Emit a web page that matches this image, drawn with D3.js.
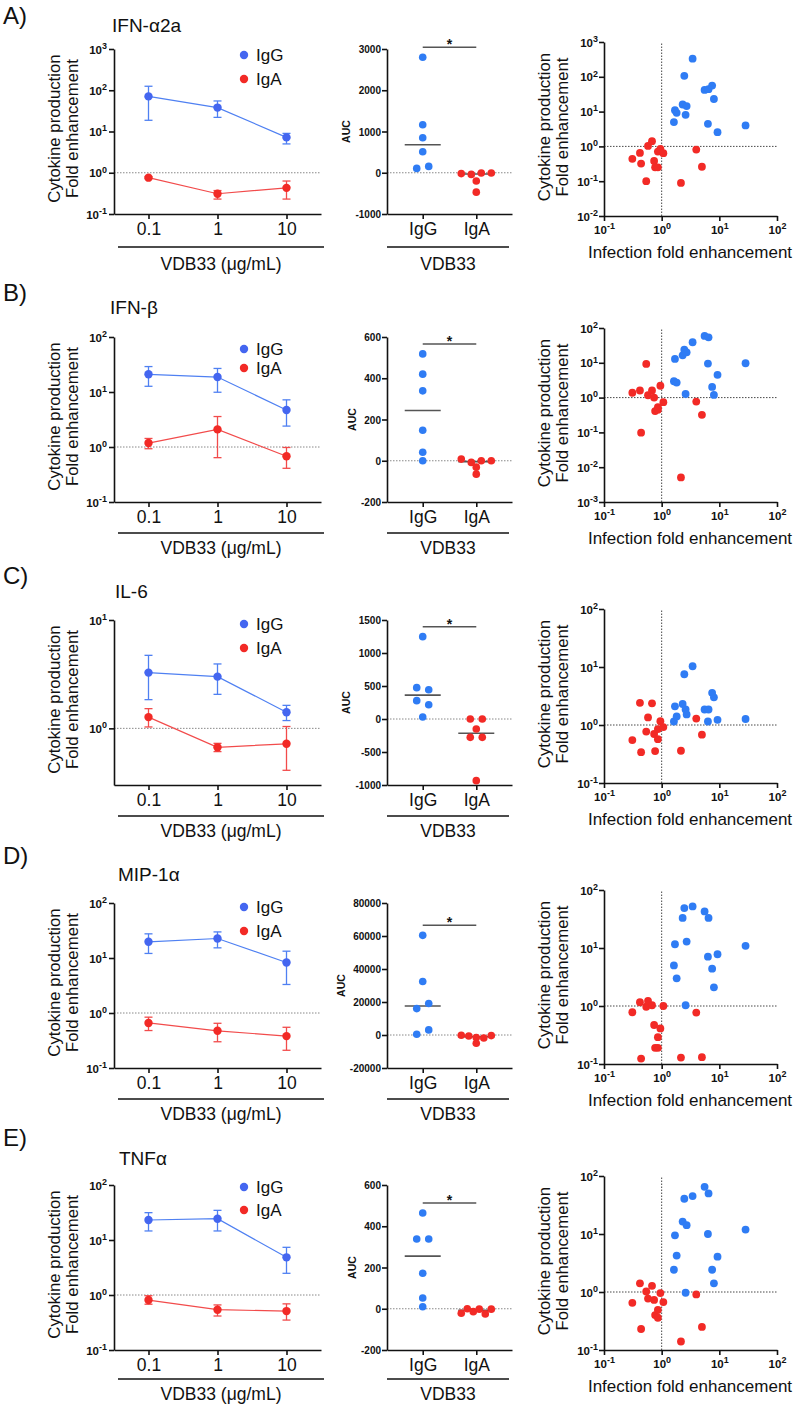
<!DOCTYPE html>
<html><head><meta charset="utf-8">
<script src="https://cdn.jsdelivr.net/npm/d3@7"></script>
<style>
body{margin:0;background:#fff;}
svg{display:block;font-family:"Liberation Sans",Arial,Helvetica,sans-serif;}
</style></head><body>
<svg id="chart" width="800" height="1410"></svg>
<script>
// ================= DATA =================
const panelLetters = ["A)", "B)", "C)", "D)", "E)"];
const cytokines = ["IFN-α2a", "IFN-β", "IL-6", "MIP-1α", "TNFα"];
const concentrations = ["0.1", "1", "10"];
const groups = ["IgG", "IgA"];

// dose-response: mean and error-bar limits, one row per cytokine
const doseIgG     = [[71, 38, 7.2], [21, 18.7, 4.7], [3.27, 3.0, 1.41], [19.7, 22.6, 8.3], [23.1, 24.4, 4.84]];
const doseIgGLow  = [[18.7, 22, 5], [12.7, 9.9, 2.4], [1.84, 2.06, 1.18], [12.1, 15.3, 3.3], [14.6, 14.6, 2.48]];
const doseIgGHigh = [[125, 55, 9], [29, 26.8, 7.2], [4.72, 3.93, 1.63], [27.5, 29.8, 13.3], [31.4, 34.6, 7.36]];
const doseIgA     = [[0.76, 0.31, 0.43], [1.18, 2.09, 0.68], [1.27, 0.668, 0.72], [0.66, 0.475, 0.38], [0.81, 0.54, 0.51]];
const doseIgALow  = [[0.72, 0.23, 0.23], [0.93, 0.64, 0.41], [1.03, 0.61, 0.41], [0.48, 0.30, 0.21], [0.68, 0.415, 0.35]];
const doseIgAHigh = [[0.80, 0.37, 0.63], [1.43, 3.58, 0.98], [1.52, 0.727, 1.04], [0.84, 0.65, 0.55], [0.97, 0.66, 0.69]];

// AUC per donor
const aucIgG = [
  [2800, 1165, 850, 510, 106, 154],
  [518, 420, 339, 148, 41, 0],
  [1248, 475, 444, 278, 217, 30],
  [60400, 32400, 16000, 19100, 440, 3080],
  [464, 338, 338, 172, 52, 10]
];
const aucIgA = [
  [-20, -40, -5, -5, -200, -470],
  [8, -8, 0, 0, -31, -65],
  [0, 0, -152, -278, -278, -934],
  [-160, -570, -1580, -1780, -360, -5020],
  [-22, 0, -14, -2, -25, -2]
];

// correlation: infection fold enhancement (x) vs cytokine fold enhancement (y)
const infectionIgG = [1.63, 1.70, 1.82, 2.31, 2.47, 2.60, 2.71, 3.44, 5.55, 6.34, 6.50, 7.50, 8.05, 9.30, 28.5];
const cytoIgG = [
  [5.0, 11, 9.2, 16, 107, 8.1, 14.4, 331, 42, 4.46, 44, 56, 23, 2.57, 4.0],
  [2.95, 12.9, 2.7, 16.4, 23.8, 1.27, 20, 39, 59, 9.5, 54, 2.02, 1.19, 4.5, 9.7],
  [1.15, 2.1, 1.40, 2.3, 7.5, 1.85, 1.52, 10.3, 1.85, 1.15, 1.85, 3.58, 3.0, 1.23, 1.27],
  [5.0, 11.6, 3.0, 33, 48.8, 1.03, 12.9, 52, 42.8, 7.1, 33, 4.4, 2.1, 7.8, 10.9],
  [2.42, 9.5, 4.24, 16.4, 40.5, 0.97, 14.2, 45, 65, 10, 50, 2.42, 1.41, 4.07, 11.9]
];
const infectionIgA = [0.31, 0.42, 0.44, 0.54, 0.58, 0.68, 0.74, 0.77, 0.86, 0.86, 0.95, 1.07, 2.16, 3.98, 4.99];
const cytoIgA = [
  [0.44, 0.65, 0.32, 0.10, 1.03, 1.41, 0.38, 0.25, 0.71, 0.25, 0.85, 0.64, 0.089, 0.81, 0.26],
  [1.38, 1.6, 0.098, 9.3, 1.17, 1.6, 1.0, 0.41, 0.53, 0.45, 2.19, 0.74, 0.0051, 0.77, 0.32],
  [0.55, 2.41, 0.34, 0.77, 1.35, 2.36, 0.70, 0.355, 0.85, 0.57, 1.16, 0.92, 0.36, 1.29, 0.68],
  [0.78, 1.16, 0.124, 0.97, 1.22, 1.03, 0.47, 0.19, 0.29, 0.19, 0.41, 1.0, 0.129, 0.77, 0.131],
  [0.65, 1.41, 0.23, 1.02, 0.77, 1.28, 0.73, 0.40, 0.49, 0.36, 0.96, 0.67, 0.14, 0.91, 0.25]
];

// axis domains & tick labels
const leftYDomain = [[0.1, 1000], [0.1, 100], [0.3, 10], [0.1, 100], [0.1, 100]];
const leftYExp = [[-1, 0, 1, 2, 3], [-1, 0, 1, 2], [0, 1], [-1, 0, 1, 2], [-1, 0, 1, 2]];
const aucTicks = [
  [-1000, 0, 1000, 2000, 3000],
  [-200, 0, 200, 400, 600],
  [-1000, -500, 0, 500, 1000, 1500],
  [-20000, 0, 20000, 40000, 60000, 80000],
  [-200, 0, 200, 400, 600]
];
const rightYExp = [[-2, -1, 0, 1, 2, 3], [-3, -2, -1, 0, 1, 2], [-1, 0, 1, 2], [-1, 0, 1, 2], [-1, 0, 1, 2]];
const rightXExp = [-1, 0, 1, 2];

const xTitleLeft = "VDB33 (μg/mL)";
const xTitleMid = "VDB33";
const xTitleRight = "Infection fold enhancement";
const yTitleLines = ["Cytokine production", "Fold enhancement"];
const yTitleMid = "AUC";

// ================= LAYOUT / STYLE =================
const leftX0 = 114, leftX1 = 321;
const midX0 = 387, midX1 = 512;
const rightX0 = 604, rightX1 = 777;
const rowBottom = [214, 502, 785, 1068, 1350];
const rightBottom = [216, 502, 783, 1064, 1350];
const plotH = 165, rightH = 174;
const letterY = [24, 301, 584, 864, 1146];
const titleY = [32, 314, 598, 881, 1165];
const titleX = [112, 110, 115, 118, 119];
const legendDy = [6, 12, 4, 4, 2], legendGap = [24, 19, 24, 24, 23];
const underlineDy = [33, 31, 31, 31, 29], xTitleDy = [56, 52, 52, 52, 50];

const ink = "#111";
const blueDot = "#4466f0", blueLine = "#4f80f2", blueScatter = "#2f7cf4";
const redDot = "#f22a26", redLine = "#f24b4b";

const svg = d3.select("#chart");

function styleAxis(g) {
  g.select(".domain").attr("stroke", ink).attr("stroke-width", 1.6);
  g.selectAll(".tick line").attr("stroke", ink).attr("stroke-width", 1.6);
  g.selectAll(".tick text").remove();
}
function powLabel(sel, exp, size) {
  sel.style("font-size", size + "px").style("font-weight", "bold").attr("fill", ink);
  sel.append("tspan").text("10");
  sel.append("tspan").attr("dy", -size * 0.42).style("font-size", (size * 0.78) + "px").text(String(exp));
}
function yTitle(x, cy) {
  yTitleLines.forEach((t, k) => {
    svg.append("text").attr("transform", `translate(${x + (k === 0 ? -54 : -36.5)},${cy}) rotate(-90)`)
      .attr("text-anchor", "middle").style("font-size", "16.8px").attr("fill", ink).text(t);
  });
}
function swarm(values, yScale, cx) {
  const idx = values.map((v, k) => k).sort((a, b) => values[b] - values[a]);
  const rows = []; let cur = null;
  idx.forEach(k => {
    const py = yScale(values[k]);
    if (cur && Math.abs(py - cur.y0) <= 6) cur.items.push(k);
    else { cur = { y0: py, items: [k] }; rows.push(cur); }
  });
  const out = new Array(values.length);
  rows.forEach(r => {
    r.items.sort((a, b) => a - b);
    const n = r.items.length;
    const sp = n > 1 ? Math.min(12, 30 / (n - 1)) : 0;
    r.items.forEach((k, j) => { out[k] = { x: cx + (j - (n - 1) / 2) * sp, y: yScale(values[k]), v: values[k] }; });
  });
  return out;
}

for (let i = 0; i < 5; i++) {
  const bottom = rowBottom[i], top = bottom - plotH;

  // panel letter & title
  svg.append("text").attr("x", 3).attr("y", letterY[i]).style("font-size", "24px").attr("fill", ink).text(panelLetters[i]);
  svg.append("text").attr("x", titleX[i]).attr("y", titleY[i]).style("font-size", "19px").attr("fill", ink).text(cytokines[i]);

  // ---------- LEFT: dose response ----------
  const xL = d3.scalePoint().domain(concentrations).range([leftX0, leftX1]).padding(0.5);
  const yL = d3.scaleLog().domain(leftYDomain[i]).range([bottom, top]);

  svg.append("line").attr("x1", leftX0).attr("x2", leftX1).attr("y1", yL(1)).attr("y2", yL(1))
    .attr("stroke", "#888").attr("stroke-width", 1).attr("stroke-dasharray", "1.5,1.5");

  const gyL = svg.append("g").attr("transform", `translate(${leftX0},0)`)
    .call(d3.axisLeft(yL).tickValues(leftYExp[i].map(e => Math.pow(10, e))).tickSize(5).tickSizeOuter(0).tickFormat(() => ""));
  styleAxis(gyL);
  gyL.selectAll(".tick").each(function (d) {
    const t = d3.select(this).append("text").attr("x", -7).attr("dy", "0.36em").attr("text-anchor", "end");
    powLabel(t, Math.round(Math.log10(d)), 11.5);
  });
  const gxL = svg.append("g").attr("transform", `translate(0,${bottom})`)
    .call(d3.axisBottom(xL).tickSize(5).tickSizeOuter(0).tickFormat(() => ""));
  styleAxis(gxL);
  gxL.selectAll(".tick").append("text").attr("y", 21).attr("text-anchor", "middle")
    .style("font-size", "17.5px").attr("fill", ink).text(d => d);

  svg.append("line").attr("x1", 118).attr("x2", 324).attr("y1", bottom + underlineDy[i]).attr("y2", bottom + underlineDy[i])
    .attr("stroke", ink).attr("stroke-width", 1.6);
  svg.append("text").attr("x", 221).attr("y", bottom + xTitleDy[i]).attr("text-anchor", "middle")
    .style("font-size", "17.5px").attr("fill", ink).text(xTitleLeft);
  yTitle(leftX0, (top + bottom) / 2 - 3);

  const series = [
    { mean: doseIgG[i], lo: doseIgGLow[i], hi: doseIgGHigh[i], dot: blueDot, line: blueLine },
    { mean: doseIgA[i], lo: doseIgALow[i], hi: doseIgAHigh[i], dot: redDot, line: redLine }
  ];
  series.forEach(s => {
    svg.append("path").datum(s.mean)
      .attr("d", d3.line().x((d, j) => xL(concentrations[j])).y(d => yL(d)))
      .attr("fill", "none").attr("stroke", s.line).attr("stroke-width", 1.2);
    concentrations.forEach((c, j) => {
      const x = xL(c), y1 = yL(s.lo[j]), y2 = yL(s.hi[j]);
      svg.append("line").attr("x1", x).attr("x2", x).attr("y1", y1).attr("y2", y2).attr("stroke", s.line).attr("stroke-width", 1.3);
      [y1, y2].forEach(yy => svg.append("line").attr("x1", x - 4).attr("x2", x + 4).attr("y1", yy).attr("y2", yy)
        .attr("stroke", s.line).attr("stroke-width", 1.3));
    });
    svg.selectAll(null).data(s.mean).enter().append("circle")
      .attr("cx", (d, j) => xL(concentrations[j])).attr("cy", d => yL(d)).attr("r", 4.2).attr("fill", s.dot);
  });

  // legend
  groups.forEach((g, k) => {
    const ly = top + legendDy[i] + k * legendGap[i];
    svg.append("circle").attr("cx", 244).attr("cy", ly).attr("r", 4.2).attr("fill", k === 0 ? blueDot : redDot);
    svg.append("text").attr("x", 256).attr("y", ly).attr("dy", "0.36em").style("font-size", "17px").attr("fill", ink).text(g);
  });

  // ---------- MIDDLE: AUC ----------
  const ticks = aucTicks[i];
  const yM = d3.scaleLinear().domain([ticks[0], ticks[ticks.length - 1]]).range([bottom, top]);
  const xM = d3.scalePoint().domain(groups).range([midX0, midX1]).padding(0.667);

  svg.append("line").attr("x1", midX0).attr("x2", midX1).attr("y1", yM(0)).attr("y2", yM(0))
    .attr("stroke", "#888").attr("stroke-width", 1).attr("stroke-dasharray", "1.5,1.5");

  const gyM = svg.append("g").attr("transform", `translate(${midX0},0)`)
    .call(d3.axisLeft(yM).tickValues(ticks).tickSize(5).tickSizeOuter(0).tickFormat(() => ""));
  styleAxis(gyM);
  gyM.selectAll(".tick").append("text").attr("x", -6).attr("dy", "0.36em").attr("text-anchor", "end")
    .style("font-size", "10px").style("font-weight", "bold").attr("fill", ink).text(d => String(d));
  const bb = gyM.node().getBBox();
  svg.append("text").attr("transform", `translate(${midX0 + bb.x - 5},${(top + bottom) / 2}) rotate(-90)`)
    .attr("text-anchor", "middle").style("font-size", "10.5px").style("font-weight", "bold").attr("fill", ink).text(yTitleMid);

  const gxM = svg.append("g").attr("transform", `translate(0,${bottom})`)
    .call(d3.axisBottom(xM).tickSize(5).tickSizeOuter(0).tickFormat(() => ""));
  styleAxis(gxM);
  gxM.selectAll(".tick").append("text").attr("y", 21).attr("text-anchor", "middle")
    .style("font-size", "17.5px").attr("fill", ink).text(d => d);
  svg.append("line").attr("x1", midX0).attr("x2", 509).attr("y1", bottom + underlineDy[i]).attr("y2", bottom + underlineDy[i])
    .attr("stroke", ink).attr("stroke-width", 1.6);
  svg.append("text").attr("x", 448).attr("y", bottom + xTitleDy[i]).attr("text-anchor", "middle")
    .style("font-size", "17.5px").attr("fill", ink).text(xTitleMid);

  [[aucIgG[i], blueScatter, "IgG"], [aucIgA[i], redDot, "IgA"]].forEach(([vals, col, g]) => {
    const cx = xM(g);
    const pts = swarm(vals, yM, cx);
    const med = d3.median(vals);
    svg.append("line").attr("x1", cx - 18).attr("x2", cx + 18).attr("y1", yM(med)).attr("y2", yM(med))
      .attr("stroke", "#555").attr("stroke-width", 1.6);
    svg.selectAll(null).data(pts).enter().append("circle")
      .attr("cx", d => d.x).attr("cy", d => d.y).attr("r", 3.8).attr("fill", col);
  });
  // significance bar
  const barY = yM(d3.max(aucIgG[i].concat(aucIgA[i]))) - 10;
  svg.append("line").attr("x1", xM("IgG")).attr("x2", xM("IgA")).attr("y1", barY).attr("y2", barY)
    .attr("stroke", "#555").attr("stroke-width", 1.5);
  svg.append("text").attr("x", (xM("IgG") + xM("IgA")) / 2).attr("y", barY + 2).attr("text-anchor", "middle")
    .style("font-size", "14px").style("font-weight", "bold").attr("fill", ink).text("*");

  // ---------- RIGHT: correlation ----------
  const rb = rightBottom[i], rt = rb - rightH;
  const xR = d3.scaleLog().domain([0.1, 100]).range([rightX0, rightX1]);
  const ye = rightYExp[i];
  const yR = d3.scaleLog().domain([Math.pow(10, ye[0]), Math.pow(10, ye[ye.length - 1])]).range([rb, rt]);

  svg.append("line").attr("x1", xR(1)).attr("x2", xR(1)).attr("y1", rb).attr("y2", rt)
    .attr("stroke", "#333").attr("stroke-width", 0.9).attr("stroke-dasharray", "1.5,1.5");
  svg.append("line").attr("x1", rightX0).attr("x2", rightX1).attr("y1", yR(1)).attr("y2", yR(1))
    .attr("stroke", "#333").attr("stroke-width", 0.9).attr("stroke-dasharray", "1.5,1.5");

  const gyR = svg.append("g").attr("transform", `translate(${rightX0},0)`)
    .call(d3.axisLeft(yR).tickValues(ye.map(e => Math.pow(10, e))).tickSize(5).tickSizeOuter(0).tickFormat(() => ""));
  styleAxis(gyR);
  gyR.selectAll(".tick").each(function (d) {
    const t = d3.select(this).append("text").attr("x", -6).attr("dy", "0.36em").attr("text-anchor", "end");
    powLabel(t, Math.round(Math.log10(d)), 11.5);
  });
  const gxR = svg.append("g").attr("transform", `translate(0,${rb})`)
    .call(d3.axisBottom(xR).tickValues(rightXExp.map(e => Math.pow(10, e))).tickSize(5).tickSizeOuter(0).tickFormat(() => ""));
  styleAxis(gxR);
  gxR.selectAll(".tick").each(function (d) {
    const t = d3.select(this).append("text").attr("y", 18).attr("text-anchor", "middle");
    powLabel(t, Math.round(Math.log10(d)), 11.5);
  });
  svg.append("text").attr("x", 690).attr("y", rb + 42).attr("text-anchor", "middle")
    .style("font-size", "17px").attr("fill", ink).text(xTitleRight);
  yTitle(rightX0, (rt + rb) / 2 - 2);

  svg.selectAll(null).data(infectionIgG.map((x, k) => [x, cytoIgG[i][k]])).enter().append("circle")
    .attr("cx", d => xR(d[0])).attr("cy", d => yR(d[1])).attr("r", 3.9).attr("fill", blueScatter);
  svg.selectAll(null).data(infectionIgA.map((x, k) => [x, cytoIgA[i][k]])).enter().append("circle")
    .attr("cx", d => xR(d[0])).attr("cy", d => yR(d[1])).attr("r", 3.9).attr("fill", redDot);
}
</script>
</body></html>
